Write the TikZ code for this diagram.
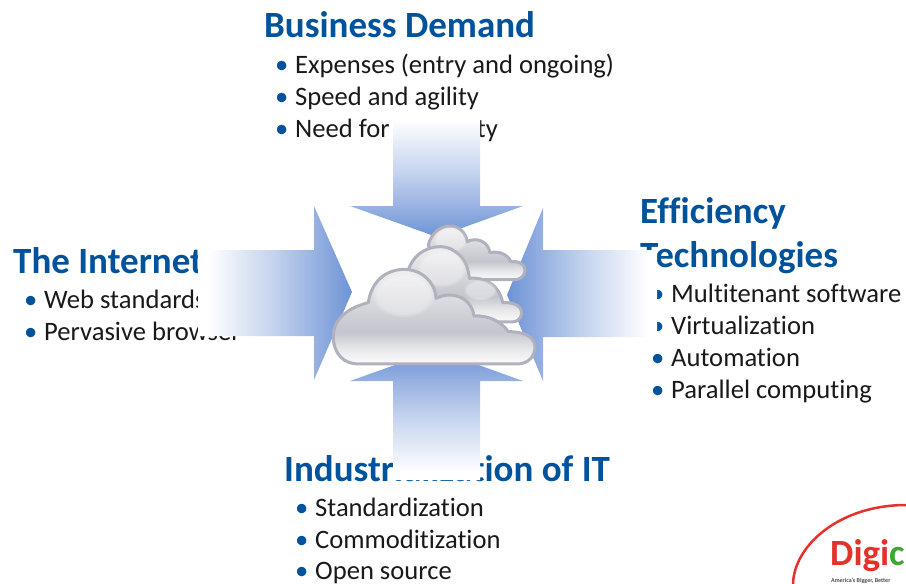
\documentclass[tikz,border=0pt]{standalone}
\usepackage{fontspec}
\setmainfont[Ligatures=NoCommon]{Carlito}
\usetikzlibrary{fadings}

\definecolor{headblue}{HTML}{00529B}
\definecolor{arrowblue}{HTML}{6E93D6}
\definecolor{cloudedge}{HTML}{B0B1BC}
\definecolor{logored}{HTML}{E4322B}
\definecolor{logogreen}{HTML}{3FA535}

% Cloud body: pale at the top, darkest low down, white strip at the bottom
\pgfdeclareverticalshading{cloudbody}{100bp}{
    color(0bp)=(white);
    color(26bp)=(white!92!cloudedge);
    color(33bp)=(white!70!cloudedge);
    color(42bp)=(white!25!cloudedge);
    color(75bp)=(white!80!cloudedge);
    color(100bp)=(white!80!cloudedge)
}

% Arrow fill: white at the tail, full blue at the tip
\pgfdeclarehorizontalshading{arrowfade}{100bp}{
    color(0bp)=(white);
    color(28bp)=(white);
    color(50bp)=(arrowblue!42!white);
    color(75bp)=(arrowblue);
    color(100bp)=(arrowblue)
}

\newcommand{\itemdot}{\makebox[20pt][l]{\textcolor{headblue}{\textbullet}}}

\begin{document}
\begin{tikzpicture}[
    x=1pt,
    y=-1pt,
    headtext/.style={anchor=base west, inner sep=0pt, text=headblue, font=\fontsize{37}{40}\selectfont\bfseries},
    itemtext/.style={anchor=base west, inner sep=0pt, text=black!90, font=\fontsize{26.6}{30}\selectfont},
    cloudpart/.style={draw=cloudedge, line width=3pt, line join=round, shading=cloudbody},
    glow/.style={fill=white, fill opacity=0.35, path fading=circle with fuzzy edge 20 percent}
]

    \useasboundingbox (0,0) rectangle (906,584);
    \clip (0,0) rectangle (906,584);

    % Top group
    \node[headtext] (demand) at (264,37) {Business Demand};
    \node[itemtext] (demand1) at (275,73) {\itemdot Expenses (entry and ongoing)};
    \node[itemtext] (demand2) at (275,105) {\itemdot Speed and agility};
    \node[itemtext] (demand3) at (275,137) {\itemdot Need for simplicity};

    % Left group
    \node[headtext] (internet) at (13,273) {The Internet};
    \node[itemtext] (internet1) at (24,308) {\itemdot Web standards};
    \node[itemtext] (internet2) at (24,340) {\itemdot Pervasive browser};

    % Right group
    \node[headtext] (efficiency) at (640,223) {Efficiency};
    \node[headtext] (technologies) at (640,267) {Technologies};
    \node[itemtext] (tech1) at (651,302) {\itemdot Multitenant software};
    \node[itemtext] (tech2) at (651,334) {\itemdot Virtualization};
    \node[itemtext] (tech3) at (651,366) {\itemdot Automation};
    \node[itemtext] (tech4) at (651,398) {\itemdot Parallel computing};

    % Bottom group
    \node[headtext] (industry) at (284,481) {Industrialization of IT};
    \node[itemtext] (industry1) at (295,516) {\itemdot Standardization};
    \node[itemtext] (industry2) at (295,548) {\itemdot Commoditization};
    \node[itemtext] (industry3) at (295,579) {\itemdot Open source};

    % Arrows, drawn over the text
    \shade[shading=arrowfade, shading angle=-90]
        (393,112) -- (480,112) -- (480,206) -- (523,206) -- (437,237) -- (350,206) -- (393,206) -- cycle;
    \shade[shading=arrowfade, shading angle=90]
        (393,480) -- (480,480) -- (480,381) -- (523,381) -- (437,350) -- (350,381) -- (393,381) -- cycle;
    \shade[shading=arrowfade, shading angle=0]
        (198,250) -- (314,250) -- (314,206) -- (352,292) -- (314,380) -- (314,336) -- (198,336) -- cycle;
    \shade[shading=arrowfade, shading angle=180]
        (657,250) -- (543,250) -- (543,208) -- (507,295) -- (543,381) -- (543,337) -- (657,337) -- cycle;

    % Clouds, back to front
    \begin{scope}[shift={(300,190)}, x=0.3333pt, y=-0.3333pt]
        \path[cloudpart] (385,165) .. controls (395,125) and (425,108) .. (450,108)
            .. controls (480,108) and (497,130) .. (502,155)
            .. controls (530,140) and (565,155) .. (570,188)
            .. controls (600,182) and (625,195) .. (632,215)
            .. controls (660,212) and (676,225) .. (675,242)
            .. controls (674,258) and (660,269) .. (645,269) -- (420,269) -- cycle;
        \path[glow] (450,150) ellipse (50 and 38);

        \path[cloudpart] (320,260) .. controls (330,200) and (375,170) .. (420,170)
            .. controls (470,170) and (505,215) .. (508,265)
            .. controls (560,260) and (600,290) .. (608,338)
            .. controls (650,335) and (668,355) .. (665,372)
            .. controls (662,388) and (650,396) .. (635,396) -- (340,396) -- cycle;
        \path[glow] (425,235) ellipse (75 and 58);
        \path[glow] (540,300) ellipse (50 and 32);

        \path[cloudpart] (100,440) .. controls (98,395) and (135,355) .. (205,338)
            .. controls (215,270) and (260,240) .. (310,238)
            .. controls (365,238) and (405,275) .. (408,325)
            .. controls (460,300) and (515,325) .. (522,378)
            .. controls (565,375) and (605,395) .. (625,425)
            .. controls (680,425) and (705,445) .. (705,470)
            .. controls (705,500) and (685,520) .. (655,522)
            -- (175,522) .. controls (130,522) and (100,490) .. (100,440) -- cycle;
        \path[glow] (310,315) ellipse (95 and 68);
    \end{scope}

    % Logo in the corner
    \draw[logored, line width=2.5pt] (793,584) .. controls (794,545) and (840,505) .. (906,505);
    \node[anchor=base west, inner sep=0pt, font=\fontsize{37}{40}\selectfont\bfseries] (logo) at (830,565)
        {\textcolor{logored}{Digi}\textcolor{logogreen}{c}};
    \node[anchor=base west, inner sep=0pt, text=black!70, font=\fontsize{6}{7}\selectfont\bfseries] (logotext) at (831,582)
        {America's Bigger, Better};

\end{tikzpicture}
\end{document}
